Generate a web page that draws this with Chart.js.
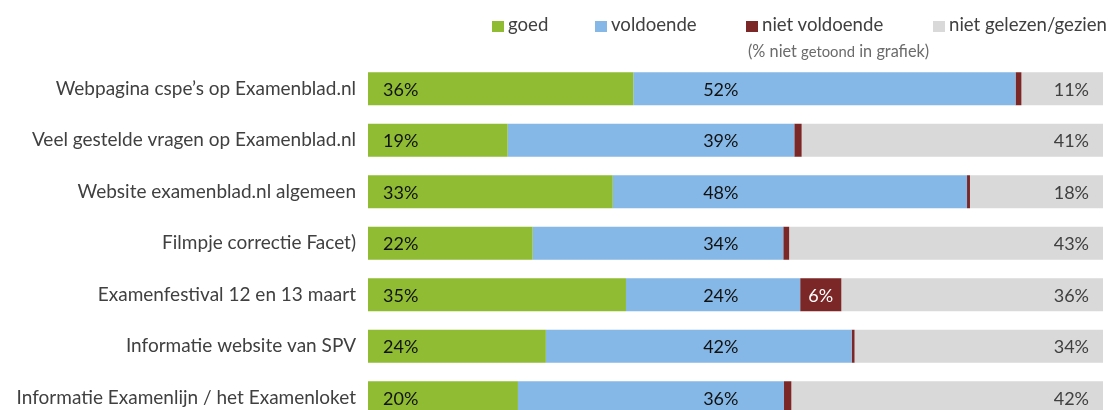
<!DOCTYPE html>
<html>
<head>
<meta charset="utf-8">
<script src="https://cdn.jsdelivr.net/npm/chart.js@4.4.1/dist/chart.umd.min.js"></script>
<style>
  html, body { margin: 0; padding: 0; background: #fff; overflow: hidden; }
  #wrap { position: relative; width: 1109px; height: 410px; overflow: hidden; }
  /* taller than the window: the last row is cut off at the bottom like the original */
  #box { position: absolute; left: 0; top: 0; width: 1109px; height: 447px; }
  .lg { position: absolute; top: 13px; font: 18.6px Lato, sans-serif; color: #404040; white-space: nowrap; }
  .lg i { display: inline-block; width: 12px; height: 11px; margin-right: 4px; vertical-align: -1px; }
  .note { position: absolute; left: 748px; top: 41px; font: 16.3px Lato, sans-serif; color: #6b6b6b; white-space: nowrap; }
  .note small { font-size: 14.8px; }
</style>
</head>
<body>
<div id="wrap">
  <div id="box"><canvas id="chart"></canvas></div>
  <div id="legend"></div>
  <div class="note">(% niet <small>getoond</small> in grafiek)</div>
</div>
<script>
// ---- data ----
const categories = [
  'Webpagina cspe\u2019s op Examenblad.nl',
  'Veel gestelde vragen op Examenblad.nl',
  'Website examenblad.nl algemeen',
  'Filmpje correctie Facet)',
  'Examenfestival 12 en 13 maart',
  'Informatie website van SPV',
  'Informatie Examenlijn / het Examenloket'
];
const seriesNames = ['goed', 'voldoende', 'niet voldoende', 'niet gelezen/gezien'];
const goed = [36.1, 19.0, 33.3, 22.4, 35.1, 24.2, 20.4];
const voldoende = [52.0, 39.0, 48.2, 34.1, 23.7, 41.6, 36.2];
const nietVoldoende = [0.8, 1.0, 0.4, 0.8, 5.6, 0.4, 1.0];
const nietGelezen = [11.1, 41.0, 18.1, 42.7, 35.6, 33.8, 42.4];

(function () {
  'use strict';

  const GREEN = '#8fbc32';
  const BLUE = '#85b8e6';
  const RED = '#7b2727';
  const GREY = '#d9d9d9';
  const TEXT = '#404040';
  const FONT = 'Lato, sans-serif';
  const colors = [GREEN, BLUE, RED, GREY];
  const values = [goed, voldoende, nietVoldoende, nietGelezen];

  // legend (html, uneven spacing like the original)
  const legendX = [492, 595, 746, 933];
  const legend = document.getElementById('legend');
  seriesNames.forEach(function (name, i) {
    const d = document.createElement('div');
    d.className = 'lg';
    d.style.left = legendX[i] + 'px';
    d.innerHTML = '<i style="background:' + colors[i] + '"></i>' + name;
    legend.appendChild(d);
  });

  // value labels inside the bars
  const barLabels = {
    id: 'barLabels',
    afterDatasetsDraw: function (chart) {
      const ctx = chart.ctx;
      const xs = chart.scales.x;
      ctx.save();
      ctx.font = '18px ' + FONT;
      ctx.textBaseline = 'middle';
      chart.data.datasets.forEach(function (ds, di) {
        const meta = chart.getDatasetMeta(di);
        meta.data.forEach(function (bar, j) {
          const v = ds.data[j];
          const txt = Math.round(v) + '%';
          const left = Math.min(bar.x, bar.base);
          const right = Math.max(bar.x, bar.base);
          const y = bar.y + 1;
          if (di === 0) {
            ctx.fillStyle = '#111';
            ctx.textAlign = 'left';
            ctx.fillText(txt, left + 15, y);
          } else if (di === 1) {
            ctx.fillStyle = '#111';
            ctx.textAlign = 'center';
            ctx.fillText(txt, xs.getPixelForValue(48), y);
          } else if (di === 2) {
            if (v >= 3) {
              ctx.fillStyle = '#fff';
              ctx.textAlign = 'center';
              ctx.fillText(txt, (left + right) / 2, y);
            }
          } else {
            ctx.fillStyle = TEXT;
            ctx.textAlign = 'right';
            ctx.fillText(txt, right - 14, y);
          }
        });
      });
      ctx.restore();
    }
  };

  new Chart(document.getElementById('chart'), {
    type: 'bar',
    data: {
      labels: categories,
      datasets: seriesNames.map(function (name, i) {
        return {
          label: name,
          data: values[i],
          backgroundColor: colors[i],
          borderWidth: 0,
          barPercentage: 0.64,
          categoryPercentage: 1
        };
      })
    },
    options: {
      indexAxis: 'y',
      responsive: true,
      maintainAspectRatio: false,
      animation: false,
      layout: { padding: { top: 63, bottom: 0, left: 0, right: 6 } },
      plugins: {
        legend: { display: false },
        tooltip: { enabled: false }
      },
      scales: {
        x: {
          stacked: true,
          display: false,
          min: 0,
          max: 100
        },
        y: {
          stacked: true,
          grid: { display: false, drawTicks: false },
          border: { display: false },
          afterFit: function (scale) { scale.width = 368; },
          ticks: {
            padding: 12,
            color: TEXT,
            font: { family: FONT, size: 19 }
          }
        }
      }
    },
    plugins: [barLabels]
  });
})();
</script>
</body>
</html>
